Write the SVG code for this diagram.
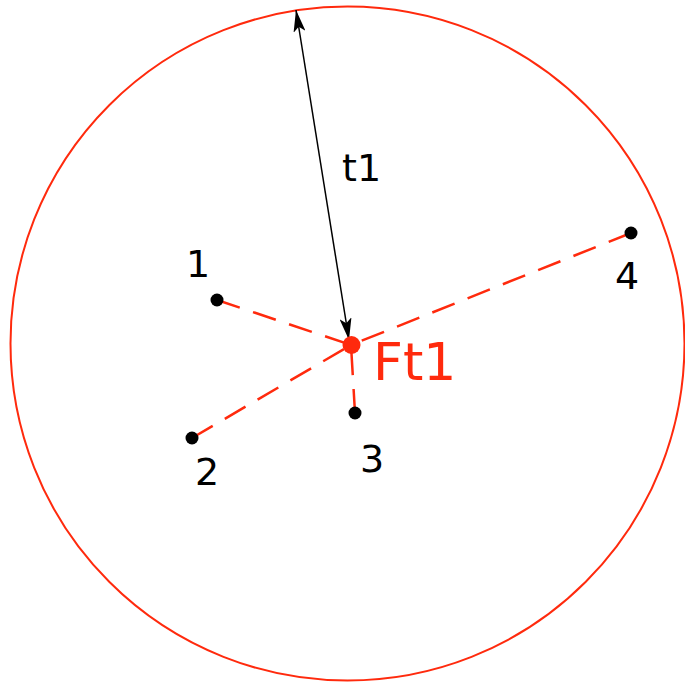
<svg xmlns="http://www.w3.org/2000/svg" width="685" height="684" viewBox="0 0 685 684">
<style>
.lbl{font-family:"DejaVu Sans",sans-serif;font-size:38px;fill:#000}
.dash{stroke:#ff2a0d;stroke-width:2.5;stroke-dasharray:24,14;fill:none}
.pt{fill:#000}
</style>
<defs>
<marker id="ah" viewBox="0 0 22 12" refX="22" refY="6" markerWidth="22" markerHeight="12" markerUnits="userSpaceOnUse" orient="auto-start-reverse">
<path d="M0,0 L22,6 L0,12 L5,6 Z" fill="#000"/>
</marker>
</defs>
<rect width="685" height="684" fill="#fff"/>
<g id="circle">
<circle cx="347.5" cy="343.5" r="337" fill="none" stroke="#ff2a0d" stroke-width="2"/>
</g>
<g id="connectors">
<line class="dash" x1="217" y1="300" x2="351" y2="345"/>
<line class="dash" x1="192" y1="438" x2="351" y2="345"/>
<line class="dash" x1="355" y1="413" x2="351" y2="345"/>
<line class="dash" x1="631" y1="233" x2="351" y2="345"/>
<line x1="296" y1="10" x2="349" y2="340" stroke="#000" stroke-width="1.5" marker-start="url(#ah)" marker-end="url(#ah)"/>
</g>
<g id="t1"><text class="lbl" x="342" y="181">t1</text></g>
<g id="ft1">
<circle cx="351.5" cy="345" r="9" fill="#ff2a0d"/>
<text x="373" y="380" font-family="DejaVu Sans,sans-serif" font-size="52" fill="#ff2a0d">Ft1</text>
</g>
<g id="p1"><circle class="pt" cx="217" cy="300" r="6.5"/><text class="lbl" x="186" y="277">1</text></g>
<g id="p2"><circle class="pt" cx="192" cy="438" r="6.5"/><text class="lbl" x="195" y="485">2</text></g>
<g id="p3"><circle class="pt" cx="355" cy="413" r="6.5"/><text class="lbl" x="360" y="472">3</text></g>
<g id="p4"><circle class="pt" cx="631" cy="233" r="6.5"/><text class="lbl" x="615" y="289">4</text></g>
</svg>
